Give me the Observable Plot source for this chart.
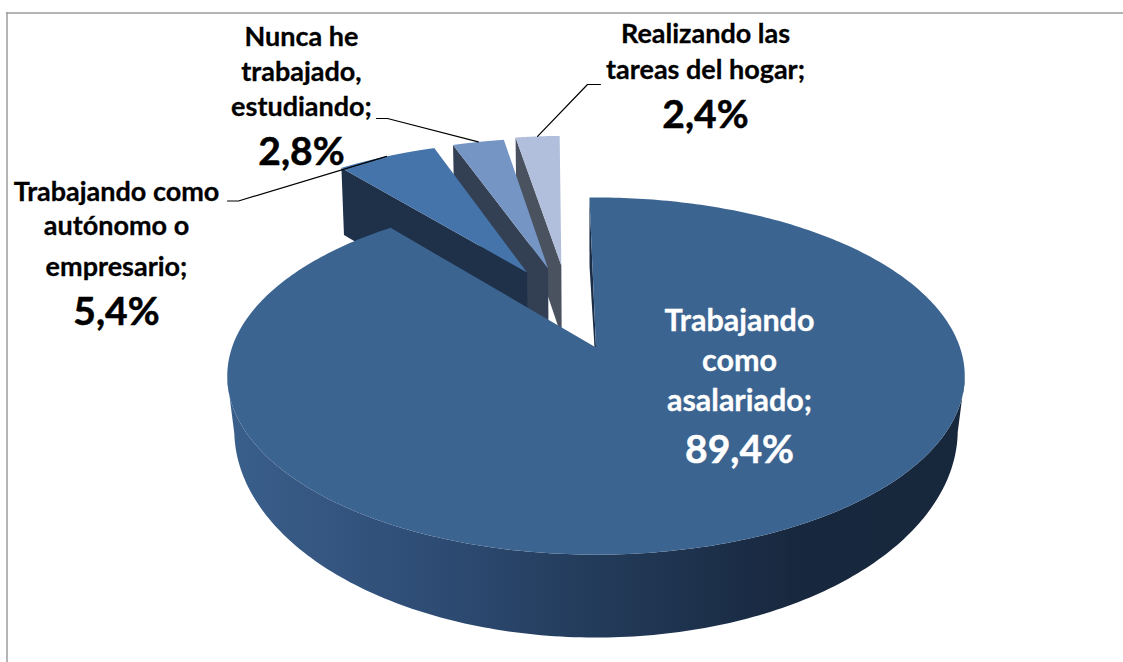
<!DOCTYPE html>
<html>
<head>
<meta charset="utf-8">
<script src="https://cdn.jsdelivr.net/npm/d3@7"></script>
<script src="https://cdn.jsdelivr.net/npm/@observablehq/plot@0.6"></script>
<style>html,body{margin:0;padding:0;background:#fff}svg{display:block}</style>
</head>
<body>
<div id="chart"></div>
<script>
// Data
const categories = [
  "Trabajando como asalariado;",
  "Trabajando como autónomo o empresario;",
  "Nunca he trabajado, estudiando;",
  "Realizando las tareas del hogar;"
];
const shares = [89.4, 5.4, 2.8, 2.4];
const shareLabels = ["89,4%", "5,4%", "2,8%", "2,4%"];

// Style
const topColors = ["#3c6491", "#4574ab", "#7596c4", "#b1bfdc"];
const sideColors = ["url(#bigSide)", "#1f3049", "#333f53", "#4a5260"];
const labelLines = [
  ["Trabajando", "como", "asalariado;"],
  ["Trabajando como", "autónomo o", "empresario;"],
  ["Nunca he", "trabajado,", "estudiando;"],
  ["Realizando las", "tareas del hogar;"]
];
// Layout: label anchors, line centres, leader elbows
const labelX = [739, 116, 301, 705];
const lineY = [[321, 361, 401, 450], [192, 226, 267, 312], [37, 72, 107, 152], [34, 70, 115]];
const labelSize = [30.5, 27, 27, 27];
const labelFill = ["#fff", "#000", "#000", "#000"];
const elbows = [null, [[227, 200.5], [238, 200.5]], [[376, 118], [387, 118]], [[600, 84], [587, 84]]];
// Explosion of each slice in the pie's own plane
const explodeU = [0, -0.2035, -0.142, -0.103];
const explodeV = [0, 0.463, 0.49, 0.51];

// Pie projection
const pie = {cx: 595.5, cy: 347, a: 364, b: 118.5, k: 0.16, rot: -1.2};
const project = (u, v) => {
  const w = 1 + pie.k * v;
  return [pie.cx + pie.a * u / w, (pie.cy - pie.b * v) / w];
};
// lower face of the exploded wedges
const drop = ([x, y]) => [pie.cx + (x - pie.cx) * 0.99, y + 67 + (y - 168) * 0.044];
// lower rim of the large slice
const dropWall = ([x, y]) => [pie.cx + (x - pie.cx) * 0.981, 430 + (y - 376) * 1.162];

const total = d3.sum(shares);
const cum = d3.cumsum(shares);
const range = i => [(i ? cum[i - 1] : 0) / total * 360 + pie.rot, cum[i] / total * 360 + pie.rot];
const rim = (deg, i) => {
  const t = deg * Math.PI / 180;
  return project(Math.sin(t) + explodeU[i], Math.cos(t) + explodeV[i]);
};
const arcPts = i => {
  const [s, e] = range(i);
  return d3.range(0, 361).map(j => rim(s + (e - s) * j / 360, i));
};
const apex = i => project(explodeU[i], explodeV[i]);

const rows = [];
const addPoly = (id, fill, pts) => pts.forEach(p => rows.push({id, fill, x: p[0], y: p[1]}));
// draw from back to front: smallest slices first, big one last
for (const i of [3, 2, 1, 0]) {
  const arc = arcPts(i), A = apex(i);
  if (i === 0) {
    const wallPts = arc.filter(p => p[1] >= 376);
    addPoly("wall", sideColors[0], [...wallPts, ...wallPts.slice().reverse().map(dropWall)]);
    // sliver of the cut face at the slice start
    addPoly("cut", "#1c2e47", [arc[0], A, [A[0] - 1.5, A[1]], drop(arc[0])]);
    addPoly("top0", topColors[0], [A, ...arc]);
  } else {
    const L = arc[0];
    addPoly("side" + i, sideColors[i], [L, A, drop(A), drop(L)]);
    addPoly("top" + i, topColors[i], [A, ...arc]);
  }
}

// Leaders
const leaders = [];
elbows.forEach((el, i) => {
  if (!el) return;
  const [s, e] = range(i);
  const end = rim((s + e) / 2, i);
  [...el, end].forEach(p => leaders.push({i, x: p[0], y: p[1]}));
});

// Labels
const texts = [];
categories.forEach((c, i) => {
  labelLines[i].forEach((t, j) => texts.push({t, x: labelX[i], y: lineY[i][j], fill: labelFill[i], big: false, size: labelSize[i]}));
  texts.push({t: shareLabels[i], x: labelX[i], y: lineY[i][labelLines[i].length], fill: labelFill[i], big: true});
});
const font = "Lato, 'Noto Sans', sans-serif";

const defs = () => {
  const s = d3.create("svg:defs");
  const g = s.append("linearGradient").attr("id", "bigSide").attr("gradientUnits", "userSpaceOnUse")
    .attr("x1", 228).attr("x2", 965).attr("y1", 0).attr("y2", 0);
  [[0, "#3a5f8b"], [0.25, "#2f4e77"], [0.5, "#233b5a"], [0.78, "#17273d"], [1, "#17283d"]]
    .forEach(([o, c]) => g.append("stop").attr("offset", o).attr("stop-color", c));
  return s.node();
};

const chart = Plot.plot({
  width: 1123, height: 662, margin: 0,
  x: {domain: [0, 1123], range: [0, 1123], axis: null},
  y: {domain: [0, 662], range: [0, 662], axis: null},
  style: {background: "#fff"},
  marks: [
    defs,
    Plot.ruleY([12.5], {x1: 6, x2: 1123, stroke: "#9c9c9c", strokeWidth: 1.5}),
    Plot.ruleX([6.5], {y1: 12, y2: 662, stroke: "#9c9c9c", strokeWidth: 1.5}),
    ...d3.groups(rows, d => d.id).map(([id, pts]) =>
      Plot.line(pts, {x: "x", y: "y", fill: pts[0].fill, stroke: null, curve: "linear-closed"})),
    Plot.line(leaders, {x: "x", y: "y", z: "i", stroke: "#000", strokeWidth: 1.2}),
    ...[...new Set(labelSize)].map(size =>
      Plot.text(texts.filter(d => !d.big && d.size === size), {x: "x", y: "y", text: "t", fill: "fill", stroke: "fill", strokeWidth: 0.3, fontFamily: font, fontWeight: 700, fontSize: size})),
    Plot.text(texts.filter(d => d.big), {x: "x", y: "y", text: "t", fill: "fill", stroke: "fill", strokeWidth: 0.5, fontFamily: font, fontWeight: 700, fontSize: 39})
  ]
});
document.getElementById("chart").append(chart);
</script>
</body>
</html>
